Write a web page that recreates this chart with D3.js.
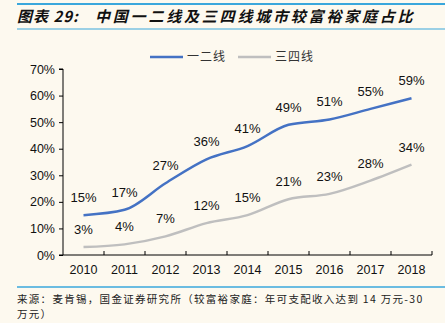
<!DOCTYPE html>
<html>
<head>
<meta charset="utf-8">
<script src="https://cdn.jsdelivr.net/npm/d3@7"></script>
<style>
  body { margin: 0; background: #fdf9ef; }
  svg { display: block; font-family: "Liberation Sans", Arial, sans-serif; }
</style>
</head>
<body>
<div id="chart"></div>
<script>
var years = ["2010", "2011", "2012", "2013", "2014", "2015", "2016", "2017", "2018"];
var tier12 = [15, 17, 27, 36, 41, 49, 51, 55, 59];
var tier34 = [3, 4, 7, 12, 15, 21, 23, 28, 34];
var yTicks = [0, 10, 20, 30, 40, 50, 60, 70];
var seriesNames = ["一二线", "三四线"];
var seriesColors = ["#4472c4", "#bfbfbf"];

var width = 445, height = 323;
var svg = d3.select("#chart").append("svg").attr("width", width).attr("height", height);

svg.append("rect").attr("width", width).attr("height", height).attr("fill", "#fdf9ef");

// title with rules above and below
svg.append("line").attr("x1", 17).attr("x2", 445).attr("y1", 4).attr("y2", 4)
  .attr("stroke", "#3aa7dc").attr("stroke-width", 2);
var title = svg.append("text").attr("x", 17).attr("y", 22)
  .attr("font-size", "15px").attr("font-weight", "bold").attr("font-style", "italic")
  .attr("font-family", "'Noto Sans CJK SC', sans-serif").attr("fill", "#111");
title.append("tspan").attr("letter-spacing", "1px").text("图表 29:");
title.append("tspan").attr("dx", 16).attr("letter-spacing", "2.8px").text("中国一二线及三四线城市较富裕家庭占比");
svg.append("line").attr("x1", 17).attr("x2", 445).attr("y1", 29).attr("y2", 29)
  .attr("stroke", "#3aa7dc").attr("stroke-width", 1.2);

var x = d3.scaleBand().domain(years).range([63, 432]);
var y = d3.scaleLinear().domain([0, 70]).range([255, 69]);

// axes
var yAxis = d3.axisLeft(y).tickValues(yTicks).tickSize(4).tickFormat(function(d) { return d + "%"; });
var gy = svg.append("g").attr("transform", "translate(63,0)").call(yAxis);
gy.select(".domain").attr("stroke", "#000").attr("d", "M-4,69H0V255H-4");
gy.selectAll("text").attr("font-size", "12.5px").attr("fill", "#111").attr("x", -8);

var xAxis = d3.axisBottom(x).tickSize(0).tickPadding(10);
var gx = svg.append("g").attr("transform", "translate(0,255)").call(xAxis);
gx.select(".domain").attr("stroke", "#000").attr("d", "M63,0H432");
gx.selectAll("text").attr("font-size", "12.5px").attr("fill", "#111");
// tick marks between categories pointing up
years.forEach(function(d, i) {
  var xt = x(d) + x.bandwidth();
  svg.append("line").attr("x1", xt).attr("x2", xt).attr("y1", 255).attr("y2", 251).attr("stroke", "#000");
});

var line = d3.line()
  .x(function(d, i) { return x(years[i]) + x.bandwidth() / 2; })
  .y(function(d) { return y(d); })
  .curve(d3.curveMonotoneX);

[tier34, tier12].forEach(function(s, k) {
  var c = k === 0 ? seriesColors[1] : seriesColors[0];
  svg.append("path").datum(s).attr("d", line).attr("fill", "none")
    .attr("stroke", c).attr("stroke-width", 2.5);
  svg.selectAll(null).data(s).enter().append("text")
    .attr("x", function(d, i) { return x(years[i]) + x.bandwidth() / 2; })
    .attr("y", function(d) { return y(d) - 13; })
    .attr("text-anchor", "middle").attr("font-size", "13px").attr("fill", "#111")
    .text(function(d) { return d + "%"; });
});

// legend
seriesNames.forEach(function(n, i) {
  var lx = 150 + i * 88;
  svg.append("line").attr("x1", lx).attr("x2", lx + 33).attr("y1", 57).attr("y2", 57)
    .attr("stroke", seriesColors[i]).attr("stroke-width", 2.5);
  svg.append("text").attr("x", lx + 37).attr("y", 61).attr("font-size", "12px")
    .attr("letter-spacing", "1px")
    .attr("font-family", "'Noto Sans CJK SC', sans-serif").attr("fill", "#333").text(n);
});

// source
svg.append("line").attr("x1", 17).attr("x2", 445).attr("y1", 287).attr("y2", 287)
  .attr("stroke", "#3aa7dc").attr("stroke-width", 1.5);
svg.append("text").attr("x", 17).attr("y", 303).attr("font-size", "10.5px")
  .attr("letter-spacing", "1.3px")
  .attr("font-family", "'Noto Sans CJK SC', sans-serif").attr("fill", "#222")
  .text("来源：麦肯锡，国金证券研究所（较富裕家庭：年可支配收入达到 14 万元-30");
svg.append("text").attr("x", 17).attr("y", 318).attr("font-size", "10.5px")
  .attr("letter-spacing", "1.3px")
  .attr("font-family", "'Noto Sans CJK SC', sans-serif").attr("fill", "#222")
  .text("万元）");
</script>
</body>
</html>
